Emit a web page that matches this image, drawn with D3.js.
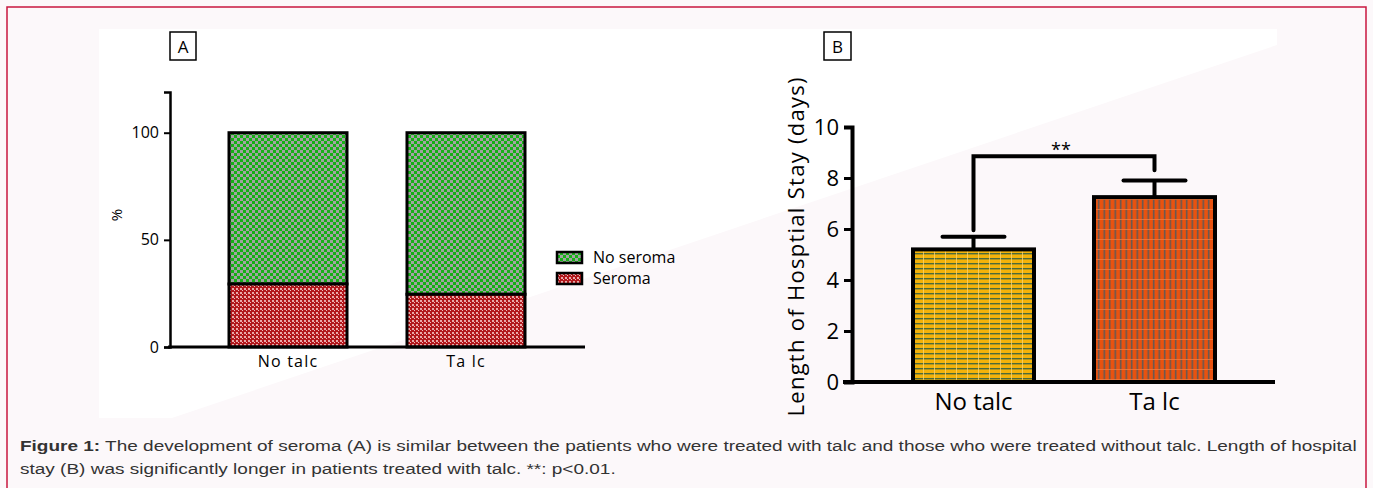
<!DOCTYPE html>
<html>
<head>
<meta charset="utf-8">
<script src="https://cdn.jsdelivr.net/npm/d3@7"></script>
<style>
  body { margin: 0; background: #fcf8fa; }
  svg { display: block; }
</style>
</head>
<body>
<script>
// panel A data
var groupsA = ["No talc", "Ta lc"];
var seroma = [29.4, 24.6];
var noSeroma = [70.6, 75.4];
var ticksA = [0, 50, 100];
var legendA = ["No seroma", "Seroma"];

// panel B data
var groupsB = ["No talc", "Ta lc"];
var stayMean = [5.2, 7.25];
var stayUpper = [5.7, 7.9];
var ticksB = [0, 2, 4, 6, 8, 10];
var bracketTop = 8.85;
var bracketLegs = [5.95, 8.3];

var svg = d3.select("body").append("svg")
  .attr("width", 1373).attr("height", 488);

// page frame
svg.append("rect").attr("x", 7).attr("y", 7).attr("width", 1359).attr("height", 500)
  .attr("fill", "#fcf8fa").attr("stroke", "#c8173f").attr("stroke-width", 1.5);

// white figure area with the diagonal cut
svg.append("polygon")
  .attr("points", "99,29 1277,29 1277,45 172,418 99,418")
  .attr("fill", "#ffffff");

var defs = svg.append("defs");

var p = defs.append("pattern").attr("id", "checkGreen").attr("patternUnits", "userSpaceOnUse")
  .attr("width", 6).attr("height", 6);
p.append("rect").attr("width", 6).attr("height", 6).attr("fill", "#16b016");
p.append("rect").attr("width", 3).attr("height", 3).attr("fill", "#a2a2a2");
p.append("rect").attr("x", 3).attr("y", 3).attr("width", 3).attr("height", 3).attr("fill", "#a2a2a2");

p = defs.append("pattern").attr("id", "checkRed").attr("patternUnits", "userSpaceOnUse")
  .attr("width", 4).attr("height", 4);
p.append("rect").attr("width", 4).attr("height", 4).attr("fill", "#b2181c");
p.append("rect").attr("width", 2).attr("height", 2).attr("fill", "#e9a9a9");
p.append("rect").attr("x", 2).attr("y", 2).attr("width", 1).attr("height", 1).attr("fill", "#f0c0c0");

p = defs.append("pattern").attr("id", "stripeGold").attr("patternUnits", "userSpaceOnUse")
  .attr("width", 11).attr("height", 5);
p.append("rect").attr("width", 11).attr("height", 5).attr("fill", "#f4b20a");
p.append("rect").attr("y", 3).attr("width", 11).attr("height", 1.4).attr("fill", "#4b6a3c");
p.append("rect").attr("x", 10).attr("width", 0.8).attr("height", 5).attr("fill", "#f8d070");

p = defs.append("pattern").attr("id", "stripeOrange").attr("patternUnits", "userSpaceOnUse")
  .attr("width", 5.5).attr("height", 10);
p.append("rect").attr("width", 5.5).attr("height", 10).attr("fill", "#e9520f");
p.append("rect").attr("x", 3.5).attr("width", 1.5).attr("height", 10).attr("fill", "#5c5a58");
p.append("rect").attr("y", 9).attr("width", 5.5).attr("height", 0.8).attr("fill", "#f07a40");

var chartFont = "'Open Sans', 'Noto Sans', sans-serif";

// ---------- panel A ----------
var xA = d3.scaleBand().domain(groupsA).range([229, 525]).paddingInner(0.337);
var yA = d3.scaleLinear().domain([0, 119]).range([347, 92]);

var gA = svg.append("g");

gA.append("rect").attr("x", 170).attr("y", 32).attr("width", 26).attr("height", 28)
  .attr("fill", "#fff").attr("stroke", "#000").attr("stroke-width", 1.5);
gA.append("text").attr("x", 183).attr("y", 53).attr("text-anchor", "middle")
  .style("font-family", chartFont).style("font-size", "17px").text("A");

gA.selectAll(".noser").data(groupsA).enter().append("rect")
  .attr("x", function(d){ return xA(d); })
  .attr("y", function(d, i){ return yA(seroma[i] + noSeroma[i]); })
  .attr("width", xA.bandwidth())
  .attr("height", function(d, i){ return yA(seroma[i]) - yA(seroma[i] + noSeroma[i]); })
  .attr("fill", "url(#checkGreen)").attr("stroke", "#000").attr("stroke-width", 3);

gA.selectAll(".ser").data(groupsA).enter().append("rect")
  .attr("x", function(d){ return xA(d); })
  .attr("y", function(d, i){ return yA(seroma[i]); })
  .attr("width", xA.bandwidth())
  .attr("height", function(d, i){ return yA(0) - yA(seroma[i]); })
  .attr("fill", "url(#checkRed)").attr("stroke", "#000").attr("stroke-width", 3);

var axA = gA.append("g").attr("transform", "translate(170,0)")
  .call(d3.axisLeft(yA).tickValues(ticksA).tickSize(6).tickPadding(5));
axA.select(".domain").attr("stroke-width", 2.5);
axA.selectAll(".tick line").attr("stroke-width", 2);
axA.selectAll(".tick text").style("font-family", chartFont).style("font-size", "16px").attr("fill", "#000");

gA.append("line").attr("x1", 168).attr("x2", 585).attr("y1", yA(0)).attr("y2", yA(0))
  .attr("stroke", "#000").attr("stroke-width", 3);

gA.selectAll(".labA").data(groupsA).enter().append("text")
  .attr("x", function(d){ return xA(d) + xA.bandwidth() / 2; })
  .attr("y", 367).attr("text-anchor", "middle")
  .style("font-family", chartFont).style("font-size", "16px").style("letter-spacing", "1.2px")
  .text(function(d){ return d; });

gA.append("text").attr("transform", "translate(122,215) rotate(-90)").attr("text-anchor", "middle")
  .style("font-family", chartFont).style("font-size", "15px").text("%");

var legFills = ["url(#checkGreen)", "url(#checkRed)"];
var leg = gA.selectAll(".leg").data(legendA).enter().append("g")
  .attr("transform", function(d, i){ return "translate(557," + (252 + i * 21) + ")"; });
leg.append("rect").attr("width", 25).attr("height", 11)
  .attr("fill", function(d, i){ return legFills[i]; }).attr("stroke", "#000").attr("stroke-width", 2.5);
leg.append("text").attr("x", 36).attr("y", 11)
  .style("font-family", chartFont).style("font-size", "16px").text(function(d){ return d; });

// ---------- panel B ----------
var xB = d3.scaleBand().domain(groupsB).range([913, 1215]).paddingInner(0.3315);
var yB = d3.scaleLinear().domain([0, 10]).range([382, 127]);

var gB = svg.append("g");

gB.append("rect").attr("x", 824).attr("y", 32).attr("width", 27).attr("height", 28)
  .attr("fill", "#fff").attr("stroke", "#000").attr("stroke-width", 1.5);
gB.append("text").attr("x", 837.5).attr("y", 53).attr("text-anchor", "middle")
  .style("font-family", chartFont).style("font-size", "17px").text("B");

var barFills = ["url(#stripeGold)", "url(#stripeOrange)"];

// error bars
gB.selectAll(".err").data(groupsB).enter().append("line")
  .attr("x1", function(d){ return xB(d) + xB.bandwidth() / 2; })
  .attr("x2", function(d){ return xB(d) + xB.bandwidth() / 2; })
  .attr("y1", function(d, i){ return yB(stayMean[i]); })
  .attr("y2", function(d, i){ return yB(stayUpper[i]); })
  .attr("stroke", "#000").attr("stroke-width", 4);
gB.selectAll(".cap").data(groupsB).enter().append("line")
  .attr("x1", function(d){ return xB(d) + xB.bandwidth() / 2 - 31; })
  .attr("x2", function(d){ return xB(d) + xB.bandwidth() / 2 + 31; })
  .attr("y1", function(d, i){ return yB(stayUpper[i]); })
  .attr("y2", function(d, i){ return yB(stayUpper[i]); })
  .attr("stroke", "#000").attr("stroke-width", 4).attr("stroke-linecap", "round");

gB.selectAll(".barB").data(groupsB).enter().append("rect")
  .attr("x", function(d){ return xB(d); })
  .attr("y", function(d, i){ return yB(stayMean[i]); })
  .attr("width", xB.bandwidth())
  .attr("height", function(d, i){ return yB(0) - yB(stayMean[i]); })
  .attr("fill", function(d, i){ return barFills[i]; })
  .attr("stroke", "#000").attr("stroke-width", 4);

// significance bracket
var cx0 = xB(groupsB[0]) + xB.bandwidth() / 2, cx1 = xB(groupsB[1]) + xB.bandwidth() / 2;
gB.append("path")
  .attr("d", "M" + cx0 + "," + yB(bracketLegs[0]) + "V" + yB(bracketTop) + "H" + cx1 + "V" + yB(bracketLegs[1]))
  .attr("fill", "none").attr("stroke", "#000").attr("stroke-width", 4).attr("stroke-linecap", "round");
gB.append("text").attr("x", (cx0 + cx1) / 2 - 3).attr("y", 156).attr("text-anchor", "middle")
  .style("font-family", chartFont).style("font-size", "18px").text("**");

var axB = gB.append("g").attr("transform", "translate(852,0)")
  .call(d3.axisLeft(yB).tickValues(ticksB).tickSize(8).tickPadding(5));
axB.select(".domain").attr("stroke-width", 4);
axB.selectAll(".tick line").attr("stroke-width", 3);
axB.selectAll(".tick text").style("font-family", chartFont).style("font-size", "22px").attr("fill", "#000");

gB.append("line").attr("x1", 843).attr("x2", 1275).attr("y1", yB(0)).attr("y2", yB(0))
  .attr("stroke", "#000").attr("stroke-width", 4);

gB.selectAll(".labB").data(groupsB).enter().append("text")
  .attr("x", function(d){ return xB(d) + xB.bandwidth() / 2; })
  .attr("y", 410).attr("text-anchor", "middle")
  .style("font-family", chartFont).style("font-size", "24px").text(function(d){ return d; });

gB.append("text").attr("transform", "translate(804,247) rotate(-90)").attr("text-anchor", "middle")
  .attr("textLength", 339).attr("lengthAdjust", "spacing")
  .style("font-family", chartFont).style("font-size", "22px").text("Length of Hosptial Stay (days)");

// ---------- caption ----------
var capFont = "'Liberation Sans', Arial, sans-serif";
var cap1 = svg.append("text").attr("y", 451).style("font-family", capFont).style("font-size", "15.5px").attr("fill", "#333");
cap1.append("tspan").style("font-weight", "bold").text("Figure 1:");
cap1.append("tspan").text(" The development of seroma (A) is similar between the patients who were treated with talc and those who were treated without talc. Length of hospital");
var cap2 = svg.append("text").attr("y", 474).style("font-family", capFont).style("font-size", "15.5px").attr("fill", "#333")
  .text("stay (B) was significantly longer in patients treated with talc. **: p<0.01.");

var k = 1337 / cap1.node().getComputedTextLength();
cap1.attr("transform", "translate(20,0) scale(" + k + ",1)");
cap2.attr("transform", "translate(20,0) scale(" + k + ",1)");
</script>
</body>
</html>
